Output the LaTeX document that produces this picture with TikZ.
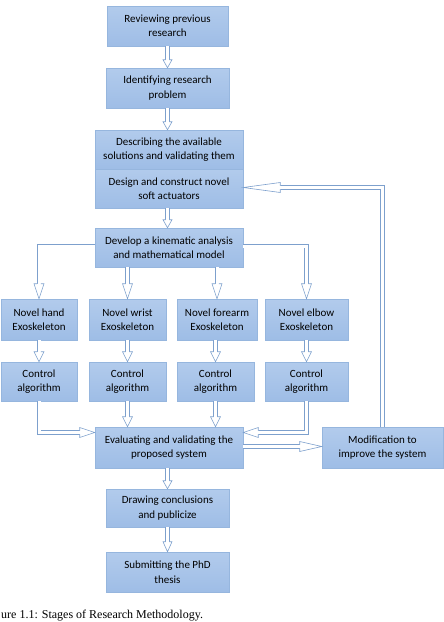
\documentclass[tikz,border=0pt]{standalone}
\usepackage{fontspec}
\setmainfont{Carlito}
\newfontfamily\capfont{Liberation Serif}
\usetikzlibrary{calc,shadows}
\definecolor{arrowblue}{RGB}{125,160,205}
\definecolor{boxborder}{RGB}{150,182,222}
\definecolor{boxtop}{RGB}{178,203,236}
\definecolor{boxmid}{RGB}{230,239,251}
\definecolor{boxbot}{RGB}{158,189,230}
\newcommand\bhead[4]{\begin{scope}[shift={(#1)},rotate=#2]
\draw[headline] (-#3pt,1.8pt) -- (-#3pt,#4pt) -- (0pt,0pt) -- (-#3pt,-#4pt) -- (-#3pt,-1.8pt);
\end{scope}}
\tikzset{
  box/.style={draw=boxborder, line width=0.5pt, top color=boxtop, middle color=boxmid,
    bottom color=boxbot, align=center, inner sep=0pt,
    font=\fontsize{11}{14.5}\selectfont,
    drop shadow={shadow xshift=1.3pt, shadow yshift=-1.3pt, opacity=0.3}},
  wh/.style 2 args={minimum width=#1pt, minimum height=#2pt},
  shaft/.style={draw=arrowblue, line width=0.6pt, double=white, double distance=3pt},
  headline/.style={draw=arrowblue, line width=0.6pt, fill=white, line join=miter}
}
\begin{document}
\begin{tikzpicture}[x=1pt,y=-1pt]
\useasboundingbox (0,0) rectangle (444,622);
% boxes
\node[box, wh={121}{40}] (rev) at (167.5,26) {Reviewing previous\\research};
\node[box, wh={123}{40}] (idf) at (167.5,88) {Identifying research\\problem};
\node[box, wh={148}{39}] (desc) at (169,149.5) {Describing the available\\solutions and validating them};
\node[box, wh={148}{39}] (design) at (169,188.5) {Design and construct novel\\soft actuators};
\node[box, wh={148}{39}] (dev) at (169,247.5) {Develop a kinematic analysis\\and mathematical model};
\node[box, wh={76}{41}] (hand) at (39,319.5) {Novel hand\\Exoskeleton};
\node[box, wh={77}{41}] (wrist) at (127.5,319.5) {Novel wrist\\Exoskeleton};
\node[box, wh={80}{41}] (fore) at (217,319.5) {Novel forearm\\Exoskeleton};
\node[box, wh={83}{41}] (elbow) at (306.5,319.5) {Novel elbow\\Exoskeleton};
\node[box, wh={76}{39}] (chand) at (39,381.5) {Control\\algorithm};
\node[box, wh={77}{39}] (cwrist) at (127.5,381.5) {Control\\algorithm};
\node[box, wh={77}{39}] (cfore) at (215.5,381.5) {Control\\algorithm};
\node[box, wh={83}{39}] (celbow) at (306.5,381.5) {Control\\algorithm};
\node[box, wh={148}{41}] (eval) at (169,447.5) {Evaluating and validating the\\proposed system};
\node[box, wh={121}{41}] (mod) at (382.5,447.5) {Modification to\\improve the system};
\node[box, wh={123}{38}] (concl) at (167.5,508) {Drawing conclusions\\and publicize};
\node[box, wh={123}{40}] (submit) at (167.5,572) {Submitting the PhD\\thesis};
\node[anchor=base west, inner sep=0pt, font=\capfont\fontsize{12}{14}\selectfont] (cap) at (1,618.5) {ure 1.1: Stages of Research Methodology.};
% shafts
\draw[shaft] (rev.south) -- ($(idf.north)+(0,-8)$);
\draw[shaft] (idf.south) -- ($(idf.south |- desc.north)+(0,-8)$);
\draw[shaft] (design.south -| idf.south) -- ($(idf.south |- dev.north)+(0,-8)$);
\draw[shaft] (wrist.north |- dev.south) -- ($(wrist.north)+(0,-15)$);
\draw[shaft] (fore.north |- dev.south) -- ($(fore.north)+(0,-15)$);
\draw[shaft] ($(dev.west)+(0,-1.5)$) -| ($(hand.north)+(0,-15)$);
\draw[shaft] ($(dev.east)+(0,-1.5)$) -| ($(elbow.north)+(0,-15)$);
\draw[shaft] (hand.south) -- ($(chand.north)+(0,-10)$);
\draw[shaft] (wrist.south) -- ($(cwrist.north)+(0,-10)$);
\draw[shaft] (cfore.north |- fore.south) -- ($(cfore.north)+(0,-10)$);
\draw[shaft] (elbow.south) -- ($(celbow.north)+(0,-10)$);
\draw[shaft] (chand.south) |- ($(eval.west)+(-15,-15)$);
\draw[shaft] (cwrist.south) -- ($(cwrist.south |- eval.north)+(0,-10)$);
\draw[shaft] (cfore.south) -- ($(cfore.south |- eval.north)+(0,-10)$);
\draw[shaft] (celbow.south) |- ($(eval.east)+(15,-15)$);
\draw[shaft] ($(eval.east)+(0,-1)$) -- ($(mod.west)+(-22,-1)$);
\draw[shaft] (mod.north) |- ($(design.east)+(37,-1)$);
\draw[shaft] (eval.south -| concl.north) -- ($(concl.north)+(0,-8)$);
\draw[shaft] (concl.south) -- ($(submit.north)+(0,-10)$);
% heads
\bhead{idf.north}{-90}{8}{4.5}
\bhead{idf.south |- desc.north}{-90}{8}{4.5}
\bhead{idf.south |- dev.north}{-90}{8}{4.5}
\bhead{wrist.north}{-90}{15}{5}
\bhead{fore.north}{-90}{15}{5}
\bhead{hand.north}{-90}{15}{5}
\bhead{elbow.north}{-90}{15}{5}
\bhead{chand.north}{-90}{10}{5}
\bhead{cwrist.north}{-90}{10}{5}
\bhead{cfore.north}{-90}{10}{5}
\bhead{celbow.north}{-90}{10}{5}
\bhead{$(eval.west)+(0,-15)$}{0}{15}{5}
\bhead{cwrist.south |- eval.north}{-90}{10}{5}
\bhead{cfore.south |- eval.north}{-90}{10}{5}
\bhead{$(eval.east)+(0,-15)$}{180}{15}{5}
\bhead{$(mod.west)+(0,-1)$}{0}{22}{5}
\bhead{$(design.east)+(0,-1)$}{180}{37}{5}
\bhead{concl.north}{-90}{8}{4.5}
\bhead{submit.north}{-90}{10}{4.5}
\end{tikzpicture}
\end{document}
